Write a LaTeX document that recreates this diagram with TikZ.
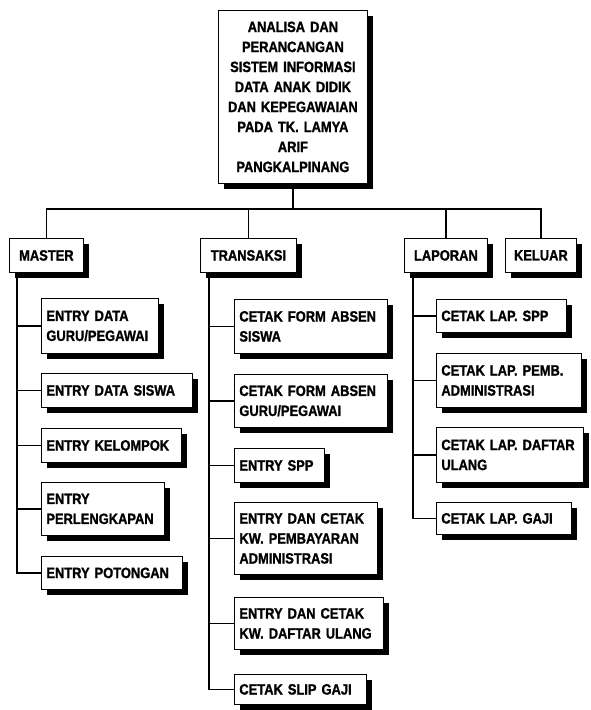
\documentclass[tikz,border=0pt]{standalone}
\usepackage{fontspec}
\setmainfont{Liberation Sans}[FakeStretch=0.86, BoldFeatures={FakeBold=1.2}]
\tikzset{
  box/.style={draw=black, line width=0.8pt, fill=white, inner xsep=5pt, inner ysep=2pt,
    font=\fontsize{15}{20}\selectfont\bfseries, anchor=north west,
    preaction={draw=none, fill=black, transform canvas={xshift=6pt, yshift=-6pt}}},
  head/.style={box, align=center},
  leaf/.style={box, align=left},
  link/.style={line width=1.2pt, black}
}
\begin{document}
\begin{tikzpicture}[x=1pt,y=-1pt]
\useasboundingbox (0,0) rectangle (590,710);
% root
\node[head, text width=139pt, minimum height=173pt] (root) at (218,10)
  {ANALISA DAN\\PERANCANGAN\\SISTEM INFORMASI\\DATA ANAK DIDIK\\DAN KEPEGAWAIAN\\PADA TK. LAMYA\\ARIF\\PANGKALPINANG};
% level 1
\node[head, minimum width=74pt, minimum height=34pt] (master) at (9,238) {MASTER};
\node[head, minimum width=96pt, minimum height=34pt] (transaksi) at (200,238) {TRANSAKSI};
\node[head, minimum width=83pt, minimum height=34pt] (laporan) at (404,238) {LAPORAN};
\node[head, minimum width=71pt, minimum height=34pt] (keluar) at (505,238) {KELUAR};
% master children
\node[leaf, text width=107pt, minimum height=55pt] (m1) at (41,298) {ENTRY DATA\\GURU/PEGAWAI};
\node[leaf, text width=141pt, minimum height=34pt] (m2) at (41,373) {ENTRY DATA SISWA};
\node[leaf, text width=130pt, minimum height=34pt] (m3) at (41,428) {ENTRY KELOMPOK};
\node[leaf, text width=113pt, minimum height=53pt] (m4) at (41,482) {ENTRY\\PERLENGKAPAN};
\node[leaf, text width=131pt, minimum height=33pt] (m5) at (41,556) {ENTRY POTONGAN};
% transaksi children
\node[leaf, text width=143pt, minimum height=54pt] (t1) at (234,299) {CETAK FORM ABSEN\\SISWA};
\node[leaf, text width=143pt, minimum height=53pt] (t2) at (234,374) {CETAK FORM ABSEN\\GURU/PEGAWAI};
\node[leaf, text width=80pt, minimum height=34pt] (t3) at (234,448) {ENTRY SPP};
\node[leaf, text width=133pt, minimum height=72pt] (t4) at (234,502) {ENTRY DAN CETAK\\KW. PEMBAYARAN\\ADMINISTRASI};
\node[leaf, text width=139pt, minimum height=52pt] (t5) at (234,597) {ENTRY DAN CETAK\\KW. DAFTAR ULANG};
\node[leaf, text width=122pt, minimum height=30pt] (t6) at (234,674) {CETAK SLIP GAJI};
% laporan children
\node[leaf, text width=120pt, minimum height=33pt] (l1) at (436,299) {CETAK LAP. SPP};
\node[leaf, text width=135pt, minimum height=54pt] (l2) at (436,353) {CETAK LAP. PEMB.\\ADMINISTRASI};
\node[leaf, text width=137pt, minimum height=55pt] (l3) at (436,427) {CETAK LAP. DAFTAR\\ULANG};
\node[leaf, text width=125pt, minimum height=32pt] (l4) at (436,502) {CETAK LAP. GAJI};
% connectors
\coordinate (bar) at (0,209);
\draw[link] (root.south) -- (root.south |- bar);
\draw[link] (master.north) -- (master.north |- bar) -- (keluar.north |- bar) -- (keluar.north);
\draw[link] (transaksi.north) -- (transaksi.north |- bar);
\draw[link] (laporan.north) -- (laporan.north |- bar);
\foreach \c in {m1,m2,m3,m4,m5}
  \draw[link] ([xshift=8pt]master.south west) |- (\c.west);
\foreach \c in {t1,t2,t3,t4,t5,t6}
  \draw[link] ([xshift=9pt]transaksi.south west) |- (\c.west);
\foreach \c in {l1,l2,l3,l4}
  \draw[link] ([xshift=9pt]laporan.south west) |- (\c.west);
\end{tikzpicture}
\end{document}
